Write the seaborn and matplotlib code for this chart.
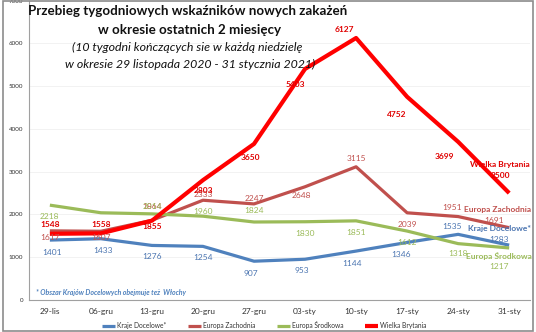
import matplotlib
matplotlib.use("Agg")
import matplotlib.pyplot as plt
import seaborn as sns
import pandas as pd
from matplotlib.patches import Rectangle

weeks = ["29-lis", "06-gru", "13-gru", "20-gru", "27-gru", "03-sty", "10-sty", "17-sty", "24-sty", "31-sty"]
kraje = [1401, 1433, 1276, 1254, 907, 953, 1144, 1346, 1535, 1283]
zachodnia = [1617, 1607, 1864, 2333, 2247, 2648, 3115, 2039, 1951, 1691]
srodkowa = [2218, 2040, 2014, 1960, 1824, 1830, 1851, 1612, 1318, 1217]
brytania = [1548, 1558, 1855, 2803, 3650, 5403, 6127, 4752, 3699, 2500]
series_names = ["Kraje Docelowe*", "Europa Zachodnia", "Europa Środkowa", "Wielka Brytania"]

sns.set_theme(style="white")
plt.rcParams['font.family'] = ['Lato', 'DejaVu Sans']

colors = {"Kraje Docelowe*": "#4f81bd", "Europa Zachodnia": "#c0504d",
          "Europa Środkowa": "#9bbb59", "Wielka Brytania": "#ff0000"}
label_colors = {"Kraje Docelowe*": "#4a74b0", "Europa Zachodnia": "#c0504d",
                "Europa Środkowa": "#9bbb59", "Wielka Brytania": "#e00000"}
widths = {"Kraje Docelowe*": 2.3, "Europa Zachodnia": 2.3, "Europa Środkowa": 2.3, "Wielka Brytania": 3.0}

all_vals = [kraje, zachodnia, srodkowa, brytania]
rows = []
for name, vals in zip(series_names, all_vals):
    for i, (w, v) in enumerate(zip(weeks, vals)):
        rows.append({"idx": i, "week": w, "value": v, "series": name})
df = pd.DataFrame(rows)

fig = plt.figure(figsize=(5.36, 3.32), dpi=100)
ax = fig.add_axes([0.054, 0.0964, 0.935, 0.9016])

for name in series_names:
    sub = df[df.series == name]
    sns.lineplot(data=sub, x="idx", y="value", color=colors[name], lw=widths[name],
                 ax=ax, label=name, solid_capstyle="butt", zorder=3 if name != "Wielka Brytania" else 4)

ax.set_xlim(-0.41, 9.41)
ax.set_ylim(0, 7000)
ax.set_yticks(range(0, 7001, 1000))
ax.set_xticks(range(len(weeks)))
ax.set_xticklabels(weeks, fontsize=6, color="#333333")
ax.tick_params(axis="y", labelsize=4.5, colors="#333333", length=2, pad=2)
ax.tick_params(axis="x", length=0, pad=6)
ax.set_xlabel("")
ax.set_ylabel("")
ax.grid(axis="y", color="#f0f0f0", lw=0.6)
for s in ["top", "right"]:
    ax.spines[s].set_visible(False)
for s in ["left", "bottom"]:
    ax.spines[s].set_color("#a0a0a0")
    ax.spines[s].set_linewidth(0.8)

# data label offsets in pixels (dx, dy up)
px = 0.72
offsets = {
    "Kraje Docelowe*": [(2, -12), (2, -12), (0, -11), (0, -11), (-3, -12), (-3, -11), (-4, -12), (-6, -12), (-6, 8), (-10, 6)],
    "Europa Zachodnia": [(0, -7), (0, -6), (0, 14), (0, 6), (0, 5), (-4, -9), (0, 8), (0, -12), (-6, 9), (-15, 7)],
    "Europa Środkowa": [(0, -11), None, (0, 7), (0, 5), (0, 11), (0, -12), (0, -12), (0, -11), (0, -10), (-10, -19)],
    "Wielka Brytania": [(0, 9), (0, 9), (0, -6), (0, -10), (-4, -14), (-10, -16), (-12, 8), (-10, -18), (-14, -15), (-9, 18)],
}
name_offsets = {"Kraje Docelowe*": (-10, 17), "Europa Zachodnia": (-12, 18),
                "Europa Środkowa": (-10, -8), "Wielka Brytania": (-9, 29)}

for name, vals in zip(series_names, all_vals):
    bold = "bold" if name == "Wielka Brytania" else "normal"
    for i, v in enumerate(vals):
        off = offsets[name][i]
        if off is None:
            continue
        ax.annotate(str(v), (i, v), xytext=(off[0] * px, off[1] * px), textcoords="offset points",
                    ha="center", va="center", fontsize=6, color=label_colors[name],
                    fontweight=bold, zorder=6)
    no = name_offsets[name]
    ax.annotate(name, (len(vals) - 1, vals[-1]), xytext=(no[0] * px, no[1] * px),
                textcoords="offset points", ha="center", va="center", fontsize=6,
                color=label_colors[name], fontweight="bold", zorder=6)

# titles
fig.text(188 / 536, 1 - 11 / 332, "Przebieg tygodniowych wskaźników nowych zakażeń",
         ha="center", va="center", fontsize=9.6, fontweight="bold", color="#111111")
fig.text(189 / 536, 1 - 30 / 332, "w okresie ostatnich 2 miesięcy",
         ha="center", va="center", fontsize=9.6, fontweight="bold", color="#111111")
fig.text(187 / 536, 1 - 47 / 332, "(10 tygodni kończących sie w każdą niedzielę",
         ha="center", va="center", fontsize=8.9, style="italic", color="#111111")
fig.text(190 / 536, 1 - 64 / 332, "w okresie 29 listopada 2020 - 31 stycznia 2021)",
         ha="center", va="center", fontsize=8.9, style="italic", color="#111111")
fig.text(36 / 536, 1 - 293 / 332, "* Obszar Krajów Docelowych obejmuje też  Włochy",
         ha="left", va="center", fontsize=5, style="italic", fontweight="bold", color="#4f81bd")

leg = ax.legend(loc="center", bbox_to_anchor=(264 / 536, 1 - 325 / 332),
                bbox_transform=fig.transFigure, ncol=4, frameon=False, fontsize=4.8,
                handlelength=2.0, handletextpad=0.3, columnspacing=3.2)
for t in leg.get_texts():
    t.set_color("#333333")

fig.patches.append(Rectangle((0.006, 0.004), 0.988, 0.992, transform=fig.transFigure,
                             fill=False, edgecolor="#8c8c8c", lw=1.2, zorder=10))

fig.savefig("out.png", dpi=100)
